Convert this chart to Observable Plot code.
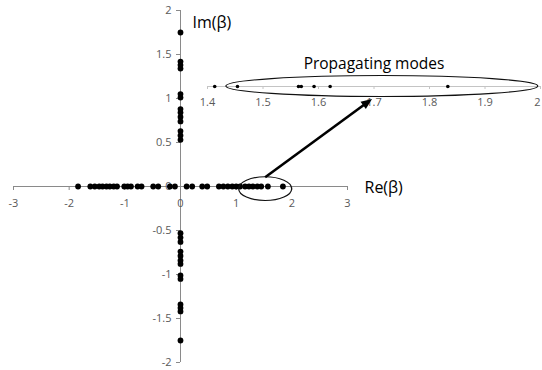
<!DOCTYPE html>
<html><head><meta charset="utf-8">
<script src="https://cdn.jsdelivr.net/npm/d3@7"></script>
<script src="https://cdn.jsdelivr.net/npm/@observablehq/plot@0.6"></script>
<style>
body{margin:0;background:#fff;}
#wrap{position:relative;width:542px;height:370px;}
#wrap svg{position:absolute;overflow:visible;}
</style></head><body><div id="wrap"></div>
<script>
// Eigenvalues beta on the real axis (main chart)
const reModes = [-1.84, -1.62, -1.54, -1.46, -1.40, -1.33, -1.27, -1.20, -1.14, -1.01, -0.95, -0.89, -0.77, -0.70, -0.49, -0.40, -0.19, -0.10,
                 0.11, 0.21, 0.39, 0.48, 0.69, 0.77, 0.85, 0.93, 1.00, 1.07, 1.16, 1.23, 1.30, 1.38, 1.45, 1.57, 1.84];
// Eigenvalues on the imaginary axis
const imModes = [0.53, 0.58, 0.63, 0.74, 0.79, 0.84, 0.88, 1.01, 1.05, 1.34, 1.38, 1.42, 1.75,
                 -0.53, -0.58, -0.63, -0.74, -0.79, -0.84, -0.88, -1.01, -1.05, -1.34, -1.38, -1.42, -1.75];
// Propagating modes (inset)
const propagating = [1.413, 1.454, 1.564, 1.569, 1.592, 1.621, 1.833];

const xTicks = [-3, -2, -1, 0, 1, 2, 3];
const xTickLabels = ["-3", "-2", "-1", "0", "1", "2", "3"];
const yTicks = [-2, -1.5, -1, -0.5, 0, 0.5, 1, 1.5, 2];
const yTickLabels = ["-2", "-1.5", "-1", "-0.5", "0", "0.5", "1", "1.5", "2"];
const insetTicks = [1.4, 1.5, 1.6, 1.7, 1.8, 1.9, 2];
const insetTickLabels = ["1.4", "1.5", "1.6", "1.7", "1.8", "1.9", "2"];

const xLabel = "Re(β)";
const yLabel = "Im(β)";
const insetTitle = "Propagating modes";

// annotation: ellipse around the propagating modes on the real axis, and arrow to the inset
const zoomEllipse = [1.53, -0.03, 0.476, 0.135];   // cx, cy, rx, ry (data units)
const insetEllipse = [1.715, 0, 0.281, 1.05];
const arrowFrom = [1.53, 0.10];
const arrowTo = [3.45, 0.99];

const FONT = "'Open Sans', 'Liberation Sans', sans-serif";
const AXIS = "#8a8a8a";
const LABEL = "#595959";

function ellipseMark(e) {
  return (index, scales) => {
    const [cx, cy, rx, ry] = e;
    const px = scales.x(cx), py = scales.y(cy);
    const prx = Math.abs(scales.x(cx + rx) - px), pry = Math.abs(scales.y(cy + ry) - py);
    return d3.create("svg:ellipse")
      .attr("cx", px).attr("cy", py).attr("rx", prx).attr("ry", pry)
      .attr("fill", "none").attr("stroke", "#111").attr("stroke-width", 1.2)
      .node();
  };
}

function arrowMark(from, to) {
  return (index, scales) => {
    const x1 = scales.x(from[0]), y1 = scales.y(from[1]);
    const x2 = scales.x(to[0]), y2 = scales.y(to[1]);
    const a = Math.atan2(y2 - y1, x2 - x1), c = Math.cos(a), s = Math.sin(a);
    const L = 11, W = 4.5;
    const bx = x2 - L * c, by = y2 - L * s;
    const g = d3.create("svg:g");
    g.append("line").attr("x1", x1).attr("y1", y1).attr("x2", bx + 2 * c).attr("y2", by + 2 * s)
      .attr("stroke", "#000").attr("stroke-width", 2.6);
    g.append("path").attr("d", `M${x2},${y2}L${bx - W * s},${by + W * c}L${bx + W * s},${by - W * c}Z`).attr("fill", "#000");
    return g.node();
  };
}

const main = Plot.plot({
  width: 542, height: 370,
  marginLeft: 13, marginRight: 195, marginTop: 10, marginBottom: 8,
  x: {domain: [-3, 3], axis: null},
  y: {domain: [-2, 2], axis: null},
  style: {background: "transparent", fontFamily: FONT, overflow: "visible"},
  marks: [
    Plot.ruleY([0], {x1: -3, x2: 3, stroke: AXIS}),
    Plot.ruleX([0], {y1: -2, y2: 2, stroke: AXIS}),
    Plot.ruleX(xTicks, {x: d => d, y1: 0, y2: 0, insetBottom: -4, stroke: AXIS}),
    Plot.ruleY(yTicks, {y: d => d, x1: 0, x2: 0, insetLeft: -4, stroke: AXIS}),
    Plot.text(xTicks, {x: d => d, y: 0, text: (d, i) => xTickLabels[i], dy: 17, fontSize: 11, fill: LABEL}),
    Plot.text(yTicks, {x: 0, y: d => d, text: (d, i) => yTickLabels[i], dx: -9, textAnchor: "end", fontSize: 11, fill: LABEL}),
    Plot.dot(reModes, {x: d => d, y: 0, r: 2.9, fill: "#000", stroke: "none"}),
    Plot.dot(imModes, {x: 0, y: d => d, r: 2.9, fill: "#000", stroke: "none"}),
    Plot.text([xLabel], {x: 3, y: 0, dx: 17, dy: 1, textAnchor: "start", fontSize: 16, fill: "#000"}),
    Plot.text([yLabel], {x: 0, y: 2, dx: 12, dy: 12, textAnchor: "start", fontSize: 16, fill: "#000"}),
    ellipseMark(zoomEllipse),
    arrowMark(arrowFrom, arrowTo)
  ]
});

const n = insetTicks.length;
const inset = Plot.plot({
  width: 347, height: 70,
  marginLeft: 12, marginRight: 2, marginTop: 36, marginBottom: 14,
  x: {domain: [1.4, 2], axis: null},
  y: {domain: [-1, 1], axis: null},
  style: {background: "transparent", fontFamily: FONT, overflow: "visible"},
  marks: [
    Plot.ruleY([0], {x1: 1.4, x2: 2, stroke: "#c4c4c4"}),
    Plot.ruleX(insetTicks, {x: d => d, y1: 0, y2: 0, insetBottom: -3, stroke: "#c4c4c4"}),
    Plot.text(insetTicks.slice(0, n - 1), {x: d => d, y: 0, text: (d, i) => insetTickLabels[i], dy: 16, fontSize: 11, fill: LABEL}),
    Plot.text(insetTicks.slice(n - 1), {x: d => d, y: 0, text: () => insetTickLabels[n - 1], dy: 16, dx: -3, fontSize: 11, fill: LABEL}),
    Plot.dot(propagating, {x: d => d, y: 0, r: 1.8, fill: "#000", stroke: "none"}),
    ellipseMark(insetEllipse),
    Plot.text([insetTitle], {frameAnchor: "top", dy: -19, fontSize: 15.5, fill: "#000"})
  ]
});

const wrap = document.getElementById("wrap");
inset.style.left = "195px";
inset.style.top = "40px";
main.style.left = "0px";
main.style.top = "0px";
wrap.appendChild(inset);
wrap.appendChild(main);
</script>
</body></html>
